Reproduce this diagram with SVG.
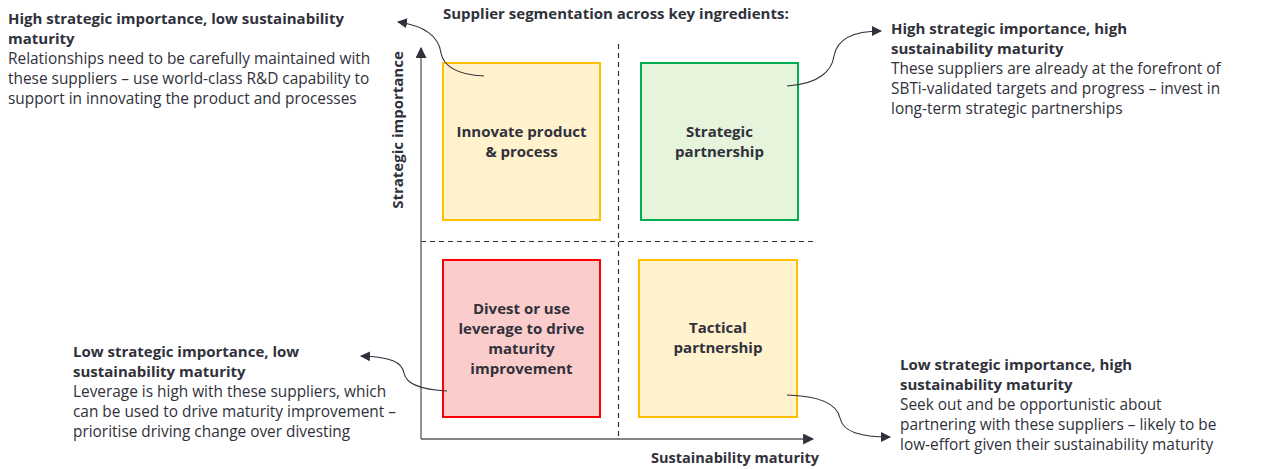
<svg xmlns="http://www.w3.org/2000/svg" width="1264" height="469" viewBox="0 0 1264 469">
<style>
text{font-family:"Open Sans","Liberation Sans",Arial,sans-serif;fill:#30313b;font-size:15.4px}
.b{font-weight:bold;font-size:15px}
.c{text-anchor:middle}
.box{stroke-width:2}
.dash{stroke:#30313b;stroke-width:1.2;stroke-dasharray:5,4;fill:none}
.axis{stroke:#5a5a60;stroke-width:1.3;fill:none}
.conn{stroke:#30313b;stroke-width:1.1;fill:none}
</style>
<defs>
<marker id="ah" viewBox="0 0 10 10" refX="9" refY="5" markerWidth="10" markerHeight="10" markerUnits="userSpaceOnUse" orient="auto">
<path d="M0,0 L10,5 L0,10 Z" fill="#30313b"/>
</marker>
<marker id="axh" viewBox="0 0 10 10" refX="9" refY="5" markerWidth="11" markerHeight="11" markerUnits="userSpaceOnUse" orient="auto">
<path d="M0,0 L10,5 L0,10 Z" fill="#30313b"/>
</marker>
</defs>
<rect width="1264" height="469" fill="#ffffff"/>

<text id="title" class="b" x="443" y="19">Supplier segmentation across key ingredients:</text>

<g id="axes">
<line class="dash" x1="618.5" y1="44" x2="618.5" y2="439"/>
<line class="dash" x1="421" y1="241.5" x2="817" y2="241.5"/>
<line class="axis" x1="421" y1="439" x2="421" y2="48" marker-end="url(#axh)"/>
<line class="axis" x1="421" y1="439" x2="813" y2="439" marker-end="url(#axh)"/>
<text class="b c" transform="translate(403,130) rotate(-90)">Strategic importance</text>
<text class="b" x="651" y="463" textLength="168" lengthAdjust="spacingAndGlyphs">Sustainability maturity</text>
</g>

<g id="node-innovate">
<rect class="box" x="443" y="63" width="157" height="157" fill="#fff2cc" stroke="#ffc000"/>
<text class="b c" x="521.5" y="137">Innovate product</text>
<text class="b c" x="521.5" y="157">&amp; process</text>
</g>
<g id="node-strategic">
<rect class="box" x="641" y="63" width="157" height="157" fill="#e6f4dc" stroke="#00b050"/>
<text class="b c" x="719.5" y="137">Strategic</text>
<text class="b c" x="719.5" y="157">partnership</text>
</g>
<g id="node-divest">
<rect class="box" x="443" y="260" width="157" height="157" fill="#facccc" stroke="#ff0000"/>
<text class="b c" x="521.5" y="314">Divest or use</text>
<text class="b c" x="521.5" y="334">leverage to drive</text>
<text class="b c" x="521.5" y="354">maturity</text>
<text class="b c" x="521.5" y="374">improvement</text>
</g>
<g id="node-tactical">
<rect class="box" x="639" y="260" width="158" height="157" fill="#fff2cc" stroke="#ffc000"/>
<text class="b c" x="718" y="333">Tactical</text>
<text class="b c" x="718" y="353">partnership</text>
</g>

<g id="note-tl">
<text class="b" x="8" y="24">High strategic importance, low sustainability</text>
<text class="b" x="8" y="44">maturity</text>
<text x="8" y="64">Relationships need to be carefully maintained with</text>
<text x="8" y="84">these suppliers – use world-class R&amp;D capability to</text>
<text x="8" y="104">support in innovating the product and processes</text>
</g>
<g id="note-tr">
<text class="b" x="891" y="34">High strategic importance, high</text>
<text class="b" x="891" y="54">sustainability maturity</text>
<text x="891" y="74">These suppliers are already at the forefront of</text>
<text x="891" y="94">SBTi-validated targets and progress – invest in</text>
<text x="891" y="114">long-term strategic partnerships</text>
</g>
<g id="note-bl">
<text class="b" x="73" y="357">Low strategic importance, low</text>
<text class="b" x="73" y="377">sustainability maturity</text>
<text x="73" y="397">Leverage is high with these suppliers, which</text>
<text x="73" y="417">can be used to drive maturity improvement –</text>
<text x="73" y="437">prioritise driving change over divesting</text>
</g>
<g id="note-br">
<text class="b" x="900" y="370">Low strategic importance, high</text>
<text class="b" x="900" y="390">sustainability maturity</text>
<text x="900" y="410">Seek out and be opportunistic about</text>
<text x="900" y="430">partnering with these suppliers – likely to be</text>
<text x="900" y="450">low-effort given their sustainability maturity</text>
</g>

<g id="connectors">
<path class="conn" d="M484,76 C456,75 443,65 441,53 C439,38 426,26 398,22" marker-end="url(#ah)"/>
<path class="conn" d="M787,86 C820,84 832,70 834,56 C837,39 853,31 881,31" marker-end="url(#ah)"/>
<path class="conn" d="M447,391 C420,390 406,383 404,373 C402,362 391,357 361,356" marker-end="url(#ah)"/>
<path class="conn" d="M787,395 C820,396 837,404 840,418 C843,432 860,437 890,437" marker-end="url(#ah)"/>
</g>
</svg>
